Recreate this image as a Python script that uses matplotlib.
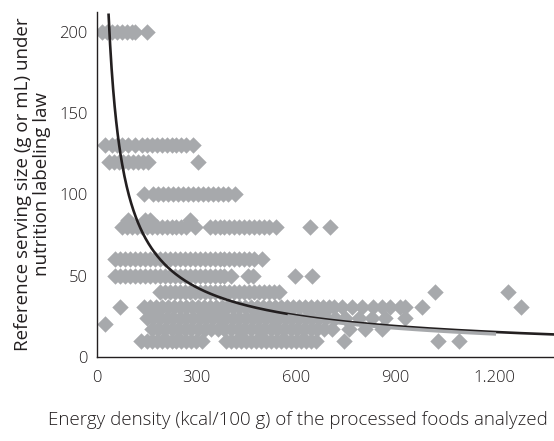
import matplotlib
matplotlib.use("Agg")
import matplotlib.pyplot as plt
import numpy as np

plt.rcParams['font.family'] = ['Open Sans', 'DejaVu Sans']
plt.rcParams['font.weight'] = 'light'

# serving size rows (g or mL) -> energy density values (kcal/100 g)
row_200 = [15, 30, 45, 60, 75, 90, 105, 115, 150]
row_130 = [25, 45, 60, 75, 95, 115, 135, 150, 165, 180, 195, 210, 225, 240, 255, 270, 290]
row_120 = [35, 50, 65, 80, 95, 110, 125, 140, 155, 305]
row_100 = [142, 170, 185, 200, 215, 230, 245, 260, 275, 290, 305, 320, 335,
           350, 365, 380, 395, 417]
row_84 = [95, 145, 160, 281]
row_80 = [75, 90, 105, 120, 135, 150, 165, 180, 195, 210, 225, 240, 255, 270, 295,
          340, 355, 370, 385, 400, 415, 430, 445, 460, 475, 490, 505, 520, 540,
          643, 705]
row_60 = [55, 70, 85, 100, 115, 130, 145, 160, 175, 190, 205, 220, 235, 250, 265,
          280, 295, 310, 325, 340, 355, 370, 385, 400, 415, 430, 445, 460, 475, 497]
row_50 = [55, 70, 85, 100, 115, 130, 145, 160, 175, 190, 205, 220, 235, 250, 265,
          280, 295, 310, 325, 340, 355, 370, 385, 405, 455, 470, 598, 650]
row_40 = [190, 205, 220, 235, 250, 265, 280, 295, 310, 325, 340, 355, 370, 385,
          400, 415, 430, 445, 460, 475, 490, 505, 520, 535, 550, 1020, 1240]
row_31 = [69, 142, 160, 178, 196, 214, 232, 250, 268, 286, 304, 322, 340, 358,
          376, 394, 412, 430, 448, 466, 484, 502, 520, 538, 556, 574, 592, 610,
          628, 646, 664, 682, 700, 715, 740, 770, 800, 834, 860, 885, 915, 930,
          980, 1280]
row_24 = [150, 170, 190, 210, 230, 250, 270, 290, 310, 330, 350, 370, 390, 410,
          430, 450, 470, 490, 510, 530, 550, 570, 590, 610, 630, 650, 670, 690,
          720, 750, 790, 830, 870, 929]
row_20 = [24]
row_17 = [166, 185, 205, 225, 245, 265, 285, 305, 325, 345, 365, 385, 405, 425,
          445, 465, 485, 505, 525, 545, 565, 585, 605, 625, 645, 665, 685, 710,
          760, 810, 860]
row_10 = [133, 150, 165, 180, 195, 210, 225, 240, 255, 270, 285, 300, 316,
          390, 405, 420, 435, 450, 465, 480, 495, 510, 525, 540, 555, 570, 585,
          600, 615, 630, 645, 660, 745, 1031, 1094]

rows = {200: row_200, 130: row_130, 120: row_120, 100: row_100, 84: row_84,
        80: row_80, 60: row_60, 50: row_50, 40: row_40, 31: row_31,
        24: row_24, 20: row_20, 17: row_17, 10: row_10}

# power trend line y = a * x^b
fit_a = 2920
fit_b = -0.74
fit_start = 35
grey_band = (575, 1205)

energy = []
serving = []
for y, xs in rows.items():
    energy += xs
    serving += [y] * len(xs)

fig = plt.figure(figsize=(5.54, 4.41), dpi=100)
ax = fig.add_axes([97 / 554, 84 / 441, 1 - 97 / 554, (357 - 12) / 441])

ax.scatter(energy, serving, marker='D', s=70, color='#a7a9ac', linewidths=0, zorder=2)

xs = np.linspace(fit_start, 1400, 600)
ax.plot(xs, fit_a * xs ** fit_b, color='#231f20', lw=1.9, zorder=3)
xb = np.linspace(grey_band[0], grey_band[1], 100)
ax.plot(xb, fit_a * xb ** fit_b - 1.2, color='#a7a9ac', lw=2.5, zorder=4,
        solid_capstyle='butt')

ax.set_xlim(0, 1380)
ax.set_ylim(0, 212)
ax.set_xticks([0, 300, 600, 900, 1200])
ax.set_xticklabels(['0', '300', '600', '900', '1.200'])
ax.set_yticks([0, 50, 100, 150, 200])
ax.tick_params(axis='both', length=0, labelsize=12, colors='#231f20')
ax.tick_params(axis='x', pad=9)
ax.tick_params(axis='y', pad=7)
for s in ['top', 'right']:
    ax.spines[s].set_visible(False)
for s in ['left', 'bottom']:
    ax.spines[s].set_color('#231f20')
    ax.spines[s].set_linewidth(1.0)

ax.set_ylabel('Reference serving size (g or mL) under\nnutrition labeling law',
              fontsize=13.5, color='#231f20', linespacing=1.1)
ax.yaxis.set_label_coords(-0.10, 0.5)
fig.text(48 / 554, 1 - 420 / 441, 'Energy density (kcal/100 g) of the processed foods analyzed',
         fontsize=13.5, color='#231f20', ha='left', va='center')

fig.savefig('out.png', dpi=100)
